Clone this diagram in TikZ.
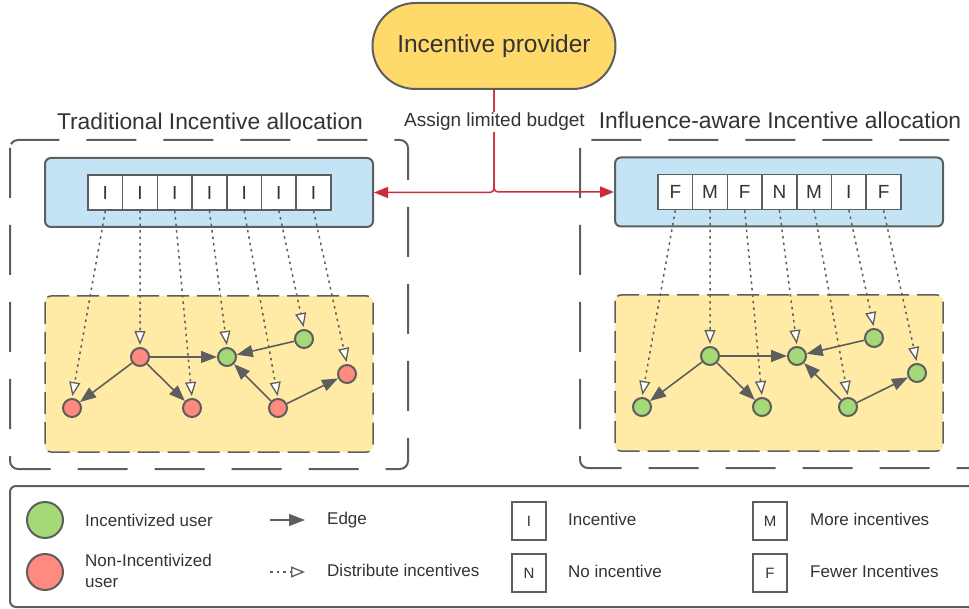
\documentclass[tikz,border=0pt]{standalone}
\usepackage{fontspec}
\setmainfont{Liberation Sans}
\usetikzlibrary{arrows.meta}
\definecolor{edgegray}{HTML}{5E5E5E}
\definecolor{ugreen}{HTML}{A3D977}
\definecolor{ured}{HTML}{FF8A80}
\definecolor{byellow}{HTML}{FFEBA6}
\definecolor{bblue}{HTML}{C4E4F6}
\definecolor{pyellow}{HTML}{FFDA6B}
\definecolor{rline}{HTML}{C92D39}
\definecolor{txtgray}{HTML}{333333}
\tikzset{
  user/.style={circle, draw=edgegray, line width=2pt, minimum size=18pt, inner sep=0pt},
  incu/.style={user, fill=ugreen},
  nonincu/.style={user, fill=ured},
  cellbox/.style={draw=edgegray, line width=1.5pt, fill=white, minimum width=34.7pt, minimum height=35pt, inner sep=0pt, text=txtgray, font=\fontsize{19}{19}\selectfont},
  legbox/.style={draw=edgegray, line width=1.5pt, fill=white, minimum width=34pt, minimum height=38pt, inner sep=0pt, text=txtgray, font=\fontsize{15}{15}\selectfont},
  edgearrow/.style={draw=edgegray, line width=1.6pt, -{Triangle[length=16pt,width=12pt]}},
  distarrow/.style={draw=edgegray, line width=1.5pt, dash pattern=on 2.5pt off 4pt, -{Triangle[open, fill=white, length=14pt, width=11pt, line width=1.3pt]}},
  outerbox/.style={draw=edgegray, line width=2pt, dash pattern=on 50pt off 27pt, rounded corners=8pt},
  bluebox/.style={draw=edgegray, fill=bblue, line width=2pt, rounded corners=6pt, minimum width=328pt, minimum height=69pt},
  yellowbox/.style={draw=edgegray, fill=byellow, line width=1.5pt, dash pattern=on 22pt off 8pt, rounded corners=6pt},
  legtext/.style={anchor=west, text=txtgray, font=\fontsize{17}{21}\selectfont, align=left, inner sep=0pt},
  titletext/.style={text=txtgray, font=\fontsize{22.8}{22.8}\selectfont},
}
\begin{document}
\begin{tikzpicture}[x=1pt,y=-1pt]
\useasboundingbox (0,0) rectangle (969,609);
\begin{scope}
\clip (0,0) rectangle (969,609);

% provider
\node[draw=edgegray, fill=pyellow, line width=2pt, rounded corners=43pt, minimum width=243pt, minimum height=86pt, text=txtgray, font=\fontsize{24.5}{24.5}\selectfont] (prov) at (494,46) {Incentive provider};

% titles
\node[titletext] (ltitle) at (210,121) {Traditional Incentive allocation};
\node[titletext] (rtitle) at (780,120) {Influence-aware Incentive allocation};

% outer boxes
\draw[outerbox] (10,140) rectangle (408,469);
\draw[outerbox] (580,140) rectangle (985,468);

% blue boxes
\node[bluebox] (lb) at (209,192.5) {};
\node[bluebox] (rb) at (779,192) {};

% yellow boxes
\draw[yellowbox] (45,296) rectangle (373,452);
\draw[yellowbox] (615,295) rectangle (943,451);

% cells
\foreach \l [count=\i] in {I,I,I,I,I,I,I}
  \node[cellbox] (Lc\i) at ({88+34.7*(\i-0.5)},192.5) {\l};
\foreach \l [count=\i] in {F,M,F,N,M,I,F}
  \node[cellbox] (Rc\i) at ({658+34.7*(\i-0.5)},192) {\l};

% users left
\node[nonincu] (Ln1) at (72,408) {};
\node[nonincu] (Ln2) at (140,357) {};
\node[nonincu] (Ln3) at (192,408) {};
\node[incu]    (Ln4) at (227,357) {};
\node[incu]    (Ln5) at (304,339) {};
\node[nonincu] (Ln6) at (278,408) {};
\node[nonincu] (Ln7) at (347,374) {};
% users right
\node[incu] (Rn1) at (642,407) {};
\node[incu] (Rn2) at (710,356) {};
\node[incu] (Rn3) at (762,407) {};
\node[incu] (Rn4) at (797,356) {};
\node[incu] (Rn5) at (874,338) {};
\node[incu] (Rn6) at (848,407) {};
\node[incu] (Rn7) at (917,373) {};

% distribute arrows and edges
\foreach \s in {L,R}{
  \draw[distarrow, shorten >=2pt] (\s c1.south) -- (\s n1.north);
  \draw[distarrow, shorten >=2pt] (\s c2.south) -- (\s n2.north);
  \draw[distarrow, shorten >=2pt] (\s c3.south) -- (\s n3.north);
  \draw[distarrow, shorten >=2pt] (\s c4.south) -- (\s n4.north);
  \draw[distarrow, shorten >=2pt] (\s c5.south) -- (\s n6.north);
  \draw[distarrow, shorten >=2pt] (\s c6.south) -- (\s n5.north);
  \draw[distarrow, shorten >=2pt] (\s c7.south) -- (\s n7.north);
  \draw[edgearrow] (\s n2) -- (\s n1);
  \draw[edgearrow] (\s n2) -- (\s n3);
  \draw[edgearrow] (\s n2) -- (\s n4);
  \draw[edgearrow] (\s n5) -- (\s n4);
  \draw[edgearrow] (\s n6) -- (\s n4);
  \draw[edgearrow] (\s n6) -- (\s n7);
}

% red budget arrows
\draw[rline, line width=1.5pt, rounded corners=4pt, -{Triangle[length=14pt,width=11pt]}] (prov.south) |- (lb.east);
\draw[rline, line width=1.5pt, rounded corners=4pt, -{Triangle[length=14pt,width=11pt]}] (prov.south) |- (rb.west);
\node[fill=white, inner sep=1pt, text=txtgray, font=\fontsize{19}{19}\selectfont] (budget) at (494.5,122) {Assign limited budget};

% legend
\draw[draw=edgegray, line width=2pt, rounded corners=6pt] (10,486) rectangle (990,607);
\node[incu, minimum size=36pt] (lgg) at (45,520) {};
\node[nonincu, minimum size=36pt] (lgr) at (45,572) {};
\node[legtext] (lgt1) at (85,520) {Incentivized user};
\node[legtext] (lgt2) at (85,571) {Non-Incentivized\\user};
\coordinate (le1) at (270,520);
\coordinate (le2) at (305,520);
\draw[edgearrow] (le1) -- (le2);
\node[legtext] (lgt3) at (327,520) {Edge};
\coordinate (ld1) at (270,572);
\coordinate (ld2) at (305,572);
\draw[distarrow] (ld1) -- (ld2);
\node[legtext] (lgt4) at (327,570) {Distribute incentives};
\node[legbox] (lbI) at (529,521) {I};
\node[legbox] (lbN) at (529,573) {N};
\node[legbox] (lbM) at (770,521) {M};
\node[legbox] (lbF) at (770,573) {F};
\node[legtext] (lgt5) at (568,519) {Incentive};
\node[legtext] (lgt6) at (568,571) {No incentive};
\node[legtext] (lgt7) at (810,519) {More incentives};
\node[legtext] (lgt8) at (810,571) {Fewer Incentives};
\end{scope}
\end{tikzpicture}
\end{document}
